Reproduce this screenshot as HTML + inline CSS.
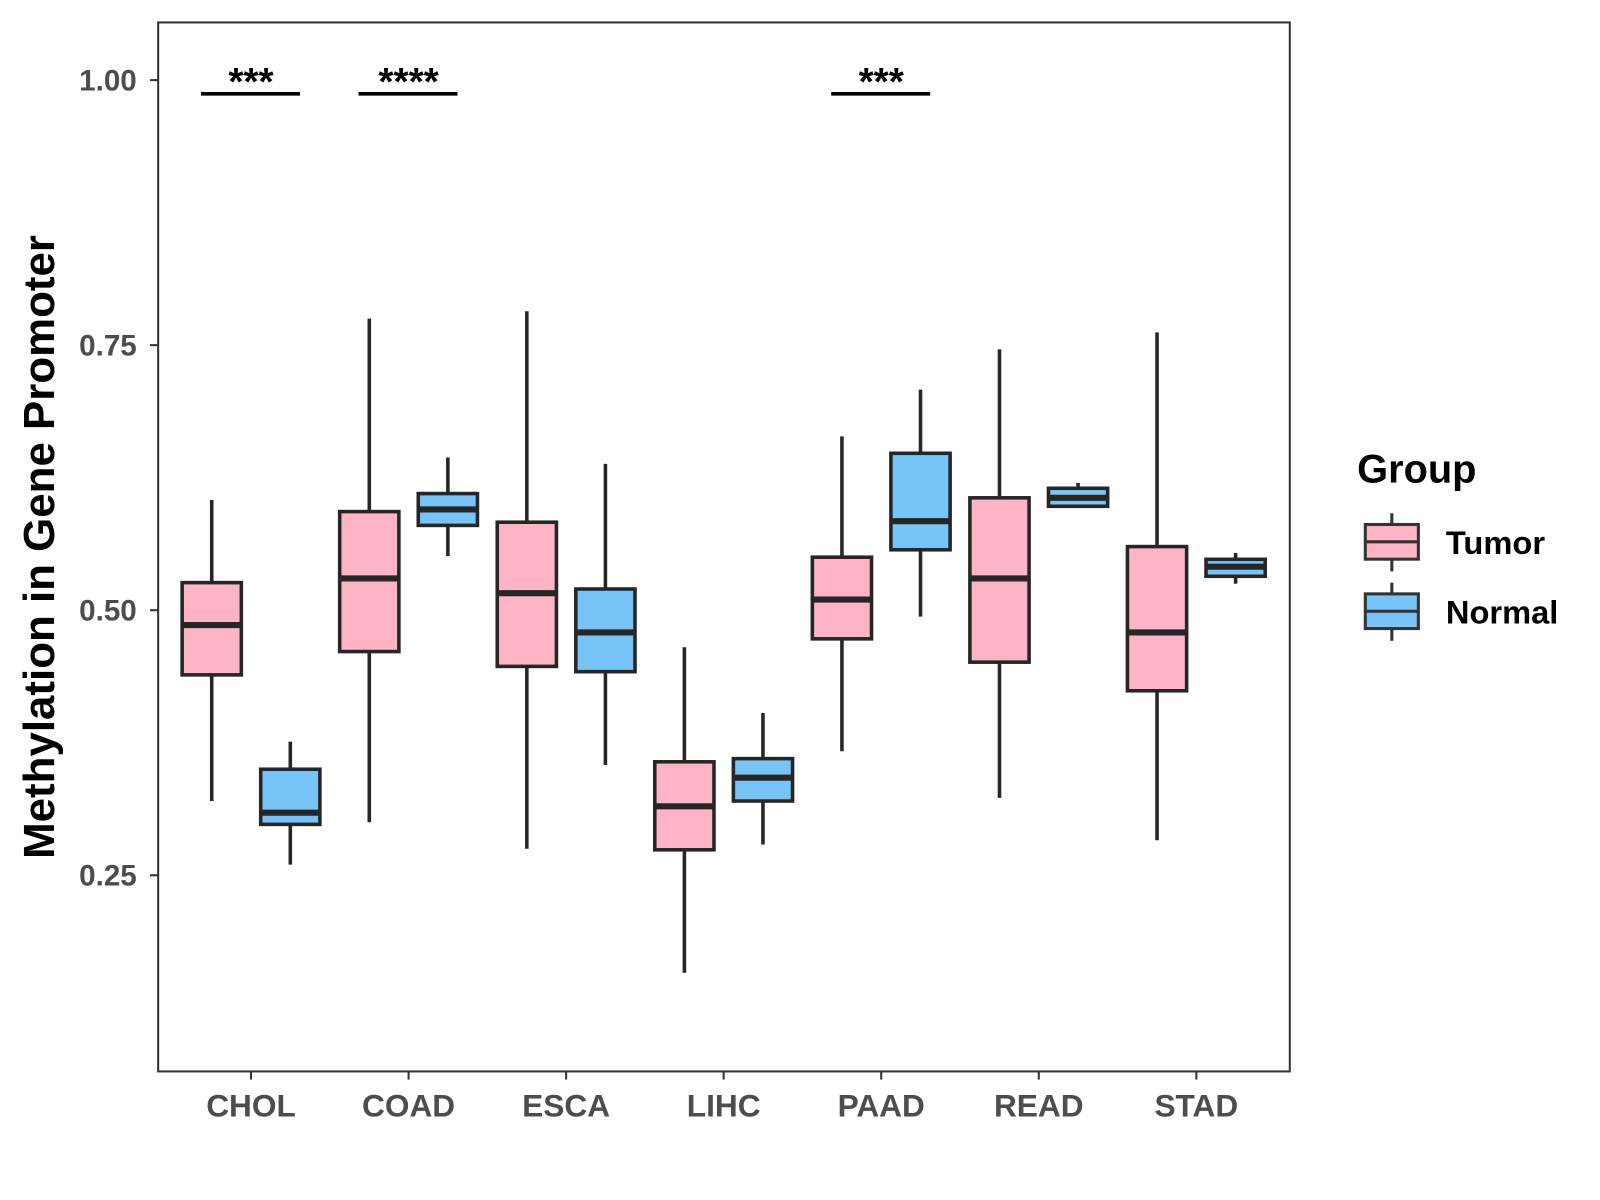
<!DOCTYPE html>
<html><head><meta charset="utf-8"><style>
html,body{margin:0;padding:0;background:#fff;}
svg{display:block;font-family:"Liberation Sans",Arial,sans-serif;}
</style></head><body>
<svg id="chart" width="1600" height="1200" viewBox="0 0 1568 1176">
<rect x="155" y="22" width="1109" height="1028" fill="#fff" stroke="#333" stroke-width="2"/>
<g id="marks"></g>
<text x="0" y="0" transform="translate(53,536) rotate(-90)" text-anchor="middle" font-size="43" font-weight="bold" fill="#000">Methylation in Gene Promoter</text>
<g>
<text x="1330" y="473" font-size="39" font-weight="bold" fill="#000">Group</text>
<g>
<line x1="1364" y1="503" x2="1364" y2="560" stroke="#333" stroke-width="3"/>
<rect x="1338" y="514" width="52" height="34" fill="#FFB3C6" stroke="#333" stroke-width="3"/>
<line x1="1338" y1="531" x2="1390" y2="531" stroke="#333" stroke-width="3"/>
<text x="1417" y="543" font-size="32" font-weight="bold" fill="#000">Tumor</text>
</g>
<g>
<line x1="1364" y1="571" x2="1364" y2="628" stroke="#333" stroke-width="3"/>
<rect x="1338" y="582" width="52" height="34" fill="#78C3F8" stroke="#333" stroke-width="3"/>
<line x1="1338" y1="599" x2="1390" y2="599" stroke="#333" stroke-width="3"/>
<text x="1417" y="611" font-size="32" font-weight="bold" fill="#000">Normal</text>
</g>
</g>
</svg>
<script>
const categories=["CHOL","COAD","ESCA","LIHC","PAAD","READ","STAD"];
// [low, q1, median, q3, high]
const tumorStats=[[0.320,0.439,0.486,0.526,0.604],[0.300,0.461,0.530,0.593,0.775],[0.275,0.447,0.516,0.583,0.782],[0.158,0.274,0.315,0.357,0.465],[0.367,0.473,0.510,0.550,0.664],[0.323,0.451,0.530,0.606,0.746],[0.283,0.424,0.479,0.560,0.762]];
const normalStats=[[0.260,0.298,0.309,0.350,0.376],[0.551,0.580,0.595,0.610,0.644],[0.354,0.442,0.479,0.520,0.638],[0.279,0.320,0.342,0.360,0.403],[0.494,0.557,0.584,0.648,0.708],[0.598,0.598,0.606,0.615,0.620],[0.525,0.532,0.541,0.548,0.554]];
const yTicks=[0.25,0.50,0.75,1.00];
const yTickLabels=["0.25","0.50","0.75","1.00"];
const sigCats=["CHOL","COAD","PAAD"];
const sigLabels=["***","****","***"];
const sigY=[0.988,0.988,0.988];

const NS="http://www.w3.org/2000/svg";
function yScale(v){return 598-(v-0.5)*1039;}
function xScale(i){return 246+i*154.4;}
const g=document.getElementById('marks');
function mk(tag,attrs,parent){const e=document.createElementNS(NS,tag);for(const k in attrs)e.setAttribute(k,attrs[k]);(parent||g).appendChild(e);return e;}

yTicks.forEach((t,i)=>{
  const y=yScale(t);
  const tk=mk('line',{x1:147,x2:155,y1:y,y2:y,stroke:'#333','stroke-width':2});
  
  
  const tx=mk('text',{x:134,y:y+10,'text-anchor':'end','font-size':29,'font-weight':'bold',fill:'#4d4d4d'});
  tx.textContent=yTickLabels[i];
  
  
});
categories.forEach((c,i)=>{
  const x=xScale(i);
  const tk=mk('line',{x1:x,x2:x,y1:1050,y2:1058,stroke:'#333','stroke-width':2});
  
  
  const tx=mk('text',{x:x,y:1094,'text-anchor':'middle','font-size':31,'font-weight':'bold',fill:'#4d4d4d'});
  tx.textContent=c;
  
  
});
function drawBox(cx,s,fill,name){
  const grp=mk('g',{});
  
  
  const w=58;
  mk('line',{x1:cx,x2:cx,y1:yScale(s[4]),y2:yScale(s[0]),stroke:'#262626','stroke-width':3.5},grp);
  const top=yScale(s[3]),bot=yScale(s[1]);
  mk('rect',{x:cx-w/2,y:top,width:w,height:Math.max(bot-top,1),fill:fill,stroke:'#262626','stroke-width':3.5},grp);
  mk('line',{x1:cx-w/2,x2:cx+w/2,y1:yScale(s[2]),y2:yScale(s[2]),stroke:'#262626','stroke-width':6},grp);
}
categories.forEach((c,i)=>{
  const x=xScale(i);
  drawBox(x-38.5,tumorStats[i],'#FFB3C6','box-tumor-'+c.toLowerCase());
  drawBox(x+38.5,normalStats[i],'#78C3F8','box-normal-'+c.toLowerCase());
});
sigCats.forEach((c,k)=>{
  const i=categories.indexOf(c);const x=xScale(i);const y=yScale(sigY[k]);
  const ln=mk('line',{x1:x-49,x2:x+48,y1:y+1,y2:y+1,stroke:'#000','stroke-width':3.5});
  
  
  const tx=mk('text',{x:x,y:y+2,'text-anchor':'middle','font-size':38,'font-weight':'bold',fill:'#000'});
  tx.textContent=sigLabels[k];
  
  
});
</script>
</body></html>
